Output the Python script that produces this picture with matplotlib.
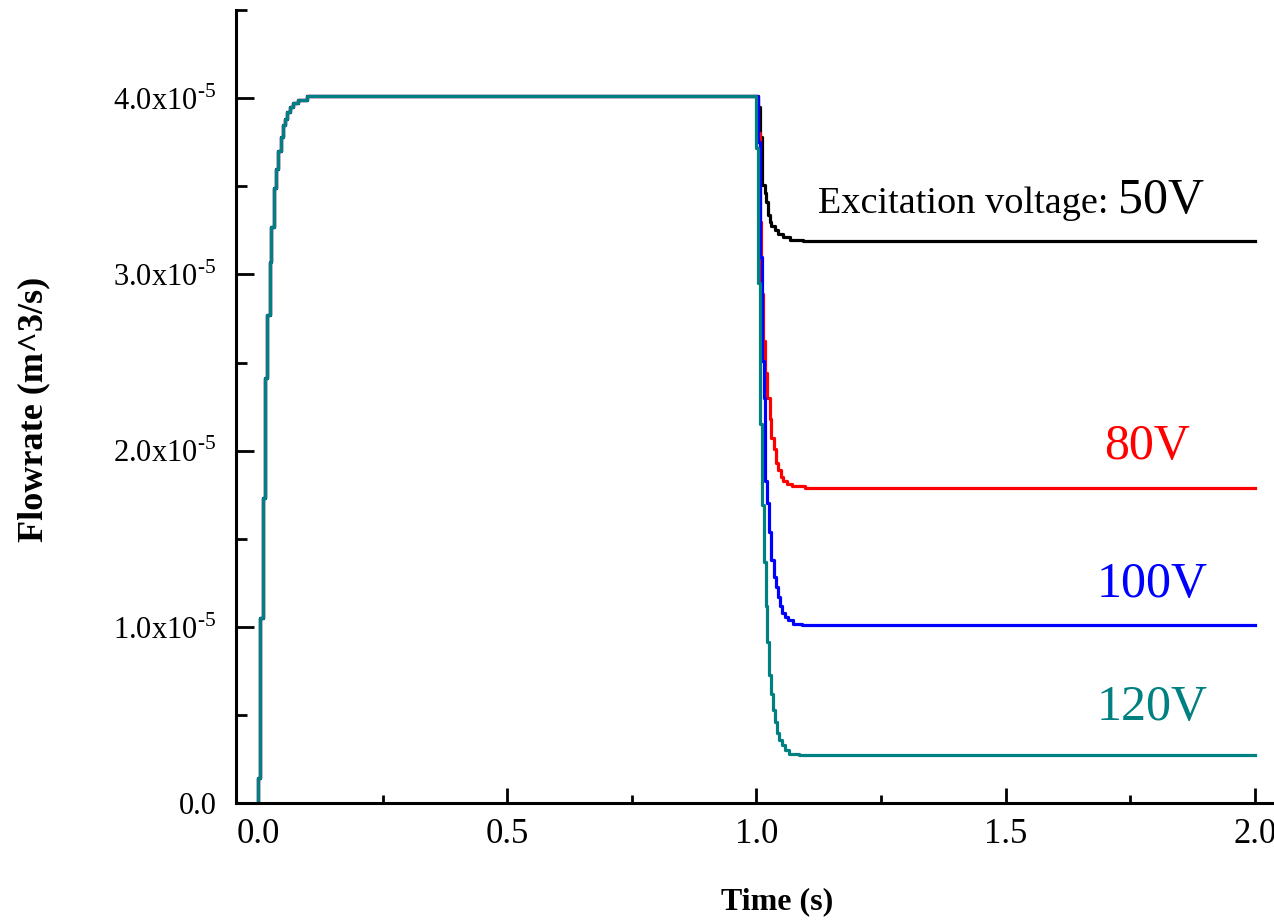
import matplotlib
matplotlib.use('Agg')
import matplotlib.pyplot as plt
from matplotlib.ticker import FuncFormatter, MultipleLocator
import numpy as np

plt.rcParams['font.family'] = ['Liberation Serif', 'DejaVu Serif']
plt.rcParams['mathtext.fontset'] = 'custom'
plt.rcParams['mathtext.rm'] = 'Liberation Serif'

# flowrate in units of 1e-5 m^3/s (stepped samples)
rise_t = [0.000, 0.001, 0.005, 0.011, 0.014, 0.019, 0.024, 0.027, 0.032, 0.037,
          0.041, 0.046, 0.050, 0.054, 0.059, 0.064, 0.071, 0.081, 0.098]
rise_v = [0.00, 0.14, 1.05, 1.73, 2.41, 2.77, 3.07, 3.27, 3.49, 3.60,
          3.70, 3.78, 3.85, 3.88, 3.92, 3.95, 3.975, 3.99, 4.01]

black_t = [1.003, 1.008, 1.012, 1.017, 1.020, 1.024, 1.027, 1.030, 1.037, 1.044,
           1.054, 1.067, 1.094, 2.000]
black_v = [3.95, 3.78, 3.51, 3.46, 3.41, 3.34, 3.30, 3.275, 3.25, 3.23,
           3.21, 3.195, 3.19, 3.19]

red_t = [1.003, 1.007, 1.010, 1.014, 1.018, 1.022, 1.027, 1.030, 1.036, 1.040,
         1.044, 1.049, 1.054, 1.061, 1.071, 1.097, 2.000]
red_v = [3.80, 3.30, 2.89, 2.62, 2.44, 2.30, 2.18, 2.07, 2.01, 1.93,
         1.89, 1.85, 1.83, 1.81, 1.80, 1.79, 1.79]

blue_t = [1.003, 1.007, 1.011, 1.015, 1.018, 1.022, 1.026, 1.030, 1.035, 1.039,
          1.043, 1.047, 1.052, 1.057, 1.064, 1.074, 1.091, 2.000]
blue_v = [3.75, 3.10, 2.51, 2.30, 1.83, 1.70, 1.54, 1.38, 1.28, 1.225,
          1.17, 1.12, 1.08, 1.055, 1.037, 1.018, 1.01, 1.01]

teal_t = [1.000, 1.004, 1.008, 1.012, 1.016, 1.019, 1.022, 1.025, 1.029, 1.034,
          1.038, 1.042, 1.046, 1.051, 1.057, 1.066, 1.085, 2.000]
teal_v = [3.72, 2.95, 2.15, 1.69, 1.37, 1.12, 0.914, 0.725, 0.62, 0.527,
          0.46, 0.40, 0.357, 0.329, 0.30, 0.28, 0.272, 0.272]

series = [
    (black_t, black_v, 'black'),
    (red_t, red_v, '#ff0000'),
    (blue_t, blue_v, '#0000ff'),
    (teal_t, teal_v, '#008080'),
]

fig = plt.figure(figsize=(12.74, 9.23), dpi=100)
ax = fig.add_axes([0.1852, 0.130, 0.8148, 0.859])

for t, v, c in series:
    x = np.array(rise_t + t)
    y = np.array(rise_v + v) * 1e-5
    ax.plot(x, y, color=c, lw=2.3, drawstyle='steps-post')

ax.set_xlim(-0.044, 2.038)
ax.set_ylim(0, 4.5e-5)

ax.spines['top'].set_visible(False)
ax.spines['right'].set_visible(False)
for s in ['left', 'bottom']:
    ax.spines[s].set_linewidth(2.2)

ax.xaxis.set_major_locator(MultipleLocator(0.5))
ax.xaxis.set_minor_locator(MultipleLocator(0.25))
ax.yaxis.set_major_locator(MultipleLocator(1e-5))
ax.yaxis.set_minor_locator(MultipleLocator(0.5e-5))


def yfmt(v, pos):
    if abs(v) < 1e-12:
        return '0.0'
    return '%.1fx10$^{\\text{-}5}$' % (v / 1e-5)


ax.yaxis.set_major_formatter(FuncFormatter(yfmt))
ax.xaxis.set_major_formatter(FuncFormatter(lambda v, p: '%.1f' % v))

ax.tick_params(which='both', direction='in', width=2.0)
ax.tick_params(axis='y', which='major', length=13, pad=14, labelsize=22)
ax.tick_params(axis='y', which='minor', length=8)
ax.tick_params(axis='x', which='major', length=11, pad=11, labelsize=25)
ax.tick_params(axis='x', which='minor', length=6)

ax.set_xlabel('Time (s)', fontsize=23, fontweight='bold')
ax.set_ylabel('Flowrate (m^3/s)', fontsize=26, fontweight='bold')
ax.xaxis.set_label_coords(0.521, -0.106)
ax.yaxis.set_label_coords(-0.179, 0.496)

ax.text(1.123, 3.35e-5, 'Excitation voltage:', fontsize=27.5, color='black')
ax.text(1.725, 3.35e-5, '50V', fontsize=36, color='black')
ax.text(1.87, 1.955e-5, '80V', fontsize=36, color='#ff0000', ha='right')
ax.text(1.683, 1.167e-5, '100V', fontsize=36, color='#0000ff')
ax.text(1.683, 0.47e-5, '120V', fontsize=36, color='#008080')

fig.savefig('out.png', dpi=100)
